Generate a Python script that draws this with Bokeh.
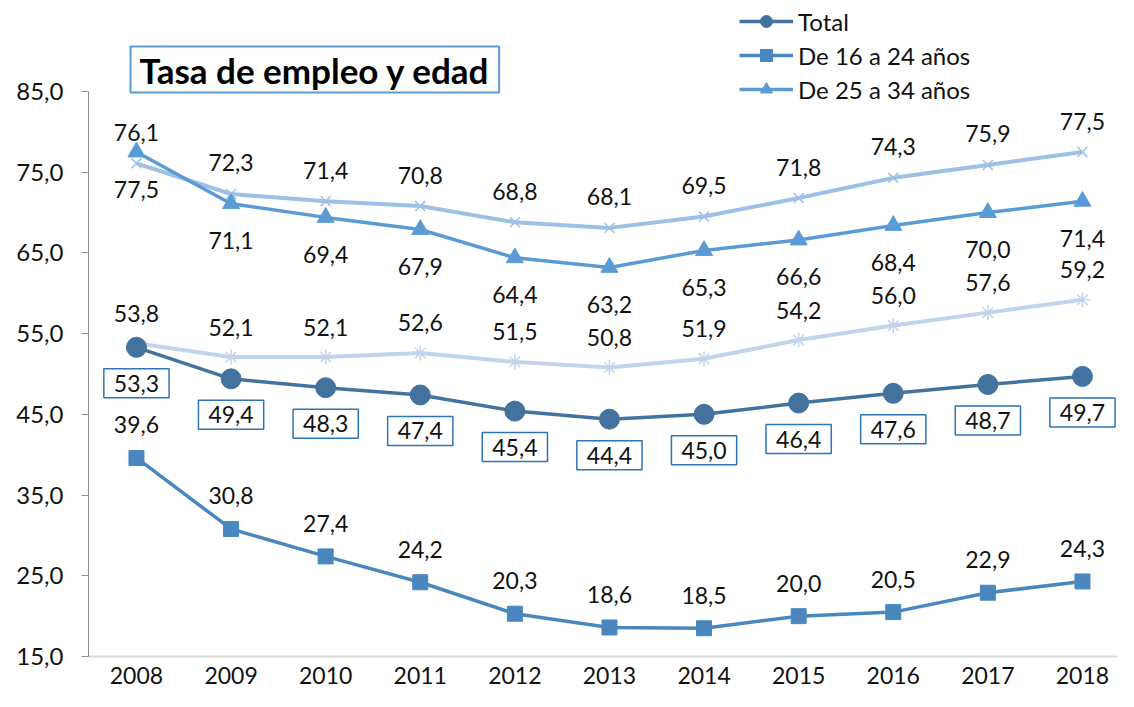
from bokeh.plotting import figure
from bokeh.models import FixedTicker, Legend, LegendItem, Range1d, Label
from bokeh.embed import file_html
from bokeh.resources import INLINE
from bokeh.core.properties import value

years = [2008, 2009, 2010, 2011, 2012, 2013, 2014, 2015, 2016, 2017, 2018]
total = [53.3, 49.4, 48.3, 47.4, 45.4, 44.4, 45.0, 46.4, 47.6, 48.7, 49.7]
age_16_24 = [39.6, 30.8, 27.4, 24.2, 20.3, 18.6, 18.5, 20.0, 20.5, 22.9, 24.3]
age_25_34 = [77.5, 71.1, 69.4, 67.9, 64.4, 63.2, 65.3, 66.6, 68.4, 70.0, 71.4]
series_upper_x = [76.1, 72.3, 71.4, 70.8, 68.8, 68.1, 69.5, 71.8, 74.3, 75.9, 77.5]
series_lower_star = [53.8, 52.1, 52.1, 52.6, 51.5, 50.8, 51.9, 54.2, 56.0, 57.6, 59.2]
y_ticks = [15, 25, 35, 45, 55, 65, 75, 85]
title_text = "Tasa de empleo y edad"
legend_names = ["Total", "De 16 a 24 años", "De 25 a 34 años"]

FONT = "Lato"

def fmt(v):
    return f"{v:.1f}".replace(".", ",")

W, H = 1118, 691
FRAME_LEFT, FRAME_BOTTOM_PAD = 88, 35
p = figure(width=W, height=H, title=None,
           x_range=Range1d(2007.493, 2018.381), y_range=Range1d(15, 96.27),
           output_backend="svg", toolbar_location=None,
           min_border_left=FRAME_LEFT, min_border_right=0, min_border_top=0,
           min_border_bottom=FRAME_BOTTOM_PAD)
p.outline_line_color = None
p.xgrid.visible = False
p.ygrid.visible = False
p.background_fill_color = "white"
p.border_fill_color = "white"

# axes
p.yaxis.ticker = FixedTicker(ticks=y_ticks)
p.yaxis.bounds = (min(y_ticks), max(y_ticks))
p.yaxis.major_label_overrides = {t: fmt(t) for t in y_ticks}
p.yaxis.axis_line_color = "#8C8C8C"
p.yaxis.major_tick_line_color = "#8C8C8C"
p.yaxis.major_tick_out = 7
p.yaxis.major_tick_in = 0
p.yaxis.minor_tick_line_color = None
p.yaxis.major_label_standoff = 18
p.yaxis.major_label_text_font = FONT
p.yaxis.major_label_text_font_size = "24px"
p.yaxis.major_label_text_color = "#111111"

p.xaxis.ticker = FixedTicker(ticks=years)
p.xaxis.major_label_overrides = {y: str(y) for y in years}
p.xaxis.axis_line_color = "#D9D9D9"
p.xaxis.axis_line_width = 2
p.xaxis.major_tick_line_color = None
p.xaxis.minor_tick_line_color = None
p.xaxis.major_label_standoff = 4
p.xaxis.major_label_text_font = FONT
p.xaxis.major_label_text_font_size = "23px"
p.xaxis.major_label_text_color = "#111111"

C_TOTAL = "#44729E"
C_1624 = "#4B87BF"
C_2534 = "#5B9BD5"
C_UPX = "#9DC0E4"
C_LOWX = "#C0D4EC"

# lines and markers
l_low = p.line(years, series_lower_star, line_color=C_LOWX, line_width=4)
s_low = p.scatter(years, series_lower_star, marker="asterisk", size=15, line_color=C_LOWX, line_width=1.5)
l_up = p.line(years, series_upper_x, line_color=C_UPX, line_width=4)
s_up = p.scatter(years, series_upper_x, marker="x", size=14, line_color=C_UPX, line_width=1.5)
l_2534 = p.line(years, age_25_34, line_color=C_2534, line_width=3.5)
s_2534 = p.scatter(years, age_25_34, marker="triangle", size=17, fill_color=C_2534, line_color=C_2534)
l_1624 = p.line(years, age_16_24, line_color=C_1624, line_width=3.5)
s_1624 = p.scatter(years, age_16_24, marker="square", size=15, fill_color=C_1624, line_color=C_1624)
l_tot = p.line(years, total, line_color=C_TOTAL, line_width=3.5)
s_tot = p.scatter(years, total, marker="circle", size=20, fill_color=C_TOTAL, line_color=C_TOTAL)

common = dict(text_align="center", text_baseline="middle", text_font=value(FONT),
              text_font_size="23px", text_color="#111111")

p.text(years, series_upper_x, text=[fmt(v) for v in series_upper_x], y_offset=-31, **common)
p.text(years, age_25_34, text=[fmt(v) for v in age_25_34], y_offset=37, **common)
p.text(years, series_lower_star, text=[fmt(v) for v in series_lower_star], y_offset=-30, **common)
p.text(years, age_16_24, text=[fmt(v) for v in age_16_24], y_offset=-33, **common)
p.text(years, total, text=[fmt(v) for v in total], y_offset=36,
       background_fill_color="white", border_line_color="#2E75B6", border_line_width=1.5,
       padding=dict(left=10, right=10, top=6, bottom=6), **common)

# title box (inside the frame area, which extends to the top of the canvas)
title = Label(x=42, y=587, x_units="screen", y_units="screen", text=title_text,
              text_font=FONT, text_font_style="bold", text_font_size="35px",
              text_color="black", text_baseline="middle", text_align="left",
              background_fill_color="white",
              border_line_color="#5B9BD5", border_line_width=2,
              padding=dict(left=9, right=9, top=2, bottom=2))
p.add_layout(title)

legend = Legend(items=[
    LegendItem(label=legend_names[0], renderers=[l_tot, s_tot]),
    LegendItem(label=legend_names[1], renderers=[l_1624, s_1624]),
    LegendItem(label=legend_names[2], renderers=[l_2534, s_2534]),
], location=(651, 552), padding=0, margin=0, spacing=4,
    glyph_width=54, glyph_height=30, label_height=30, label_standoff=5,
    label_text_font=FONT, label_text_font_size="24px", label_text_color="#111111",
    background_fill_alpha=0, border_line_color=None)
p.add_layout(legend, "center")

open("out.html", "w").write(file_html(p, INLINE))
